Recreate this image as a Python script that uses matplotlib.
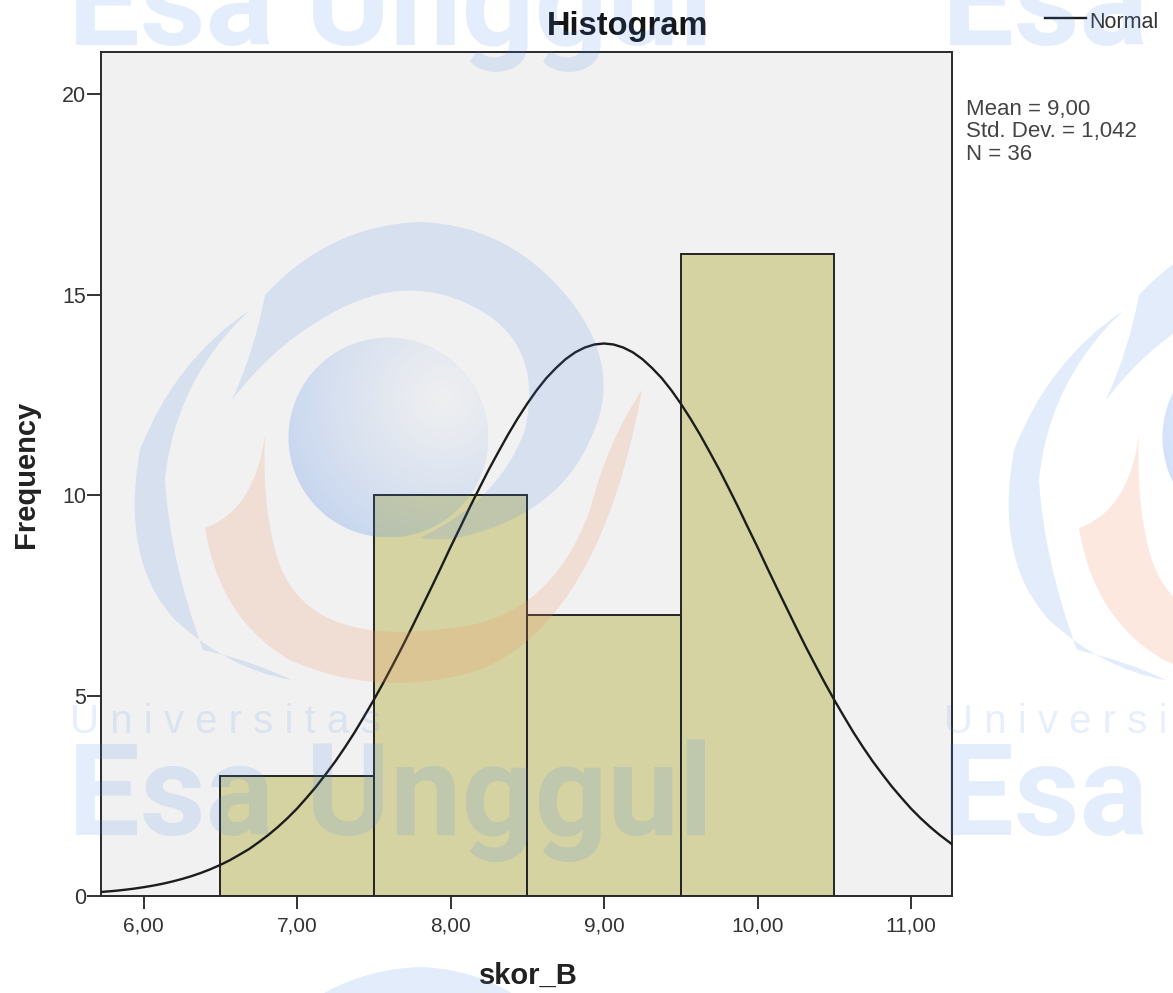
import numpy as np
import matplotlib
matplotlib.use("Agg")
import matplotlib.pyplot as plt
from matplotlib.patches import PathPatch
from matplotlib.path import Path
from matplotlib.transforms import Affine2D

W, H = 1173, 993
bin_edges = [6.5, 7.5, 8.5, 9.5, 10.5]
frequencies = [3, 10, 7, 16]
curve_x = [5.723, 5.8125, 5.875, 5.9375, 6.0, 6.0625, 6.125, 6.1875, 6.25, 6.3125, 6.375, 6.4375,
           6.5, 6.5625, 6.625, 6.6875, 6.75, 6.8125, 6.875, 6.9375, 7.0, 7.0625, 7.125, 7.1875,
           7.25, 7.3125, 7.375, 7.4375, 7.5, 7.5625, 7.625, 7.6875, 7.75, 7.8125, 7.875, 7.9375,
           8.0, 8.0625, 8.125, 8.1875, 8.25, 8.3125, 8.375, 8.4375, 8.5, 8.5625, 8.625, 8.6875,
           8.75, 8.8125, 8.875, 8.9375, 9.0, 9.0625, 9.125, 9.1875, 9.25, 9.3125, 9.375, 9.4375,
           9.5, 9.5625, 9.625, 9.6875, 9.75, 9.8125, 9.875, 9.9375, 10.0, 10.0625, 10.125, 10.1875,
           10.25, 10.3125, 10.375, 10.4375, 10.5, 10.5625, 10.625, 10.6875, 10.75, 10.8125, 10.875,
           10.9375, 11.0, 11.0625, 11.125, 11.1875, 11.267]
curve_y = [0.10, 0.128, 0.154, 0.183, 0.219, 0.259, 0.306, 0.361, 0.424, 0.495, 0.577, 0.670,
           0.775, 0.893, 1.03, 1.17, 1.34, 1.52, 1.72, 1.94, 2.18, 2.45, 2.73, 3.04,
           3.36, 3.71, 4.08, 4.48, 4.89, 5.32, 5.77, 6.23, 6.71, 7.20, 7.69, 8.19,
           8.70, 9.19, 9.69, 10.17, 10.64, 11.08, 11.51, 11.91, 12.28, 12.62, 12.92, 13.17,
           13.39, 13.56, 13.68, 13.755, 13.78, 13.755, 13.68, 13.56, 13.39, 13.17, 12.92, 12.62,
           12.28, 11.91, 11.51, 11.08, 10.64, 10.17, 9.69, 9.19, 8.70, 8.19, 7.69, 7.20,
           6.71, 6.23, 5.77, 5.32, 4.89, 4.48, 4.08, 3.71, 3.36, 3.04, 2.73,
           2.45, 2.18, 1.94, 1.72, 1.52, 1.29]
x_ticks = [6, 7, 8, 9, 10, 11]
x_labels = ["6,00", "7,00", "8,00", "9,00", "10,00", "11,00"]
y_ticks = [0, 5, 10, 15, 20]
stats_lines = ["Mean = 9,00", "Std. Dev. = 1,042", "N = 36"]

plt.rcParams["font.family"] = ["Liberation Sans", "DejaVu Sans"]
fig = plt.figure(figsize=(W / 100, H / 100), dpi=100, facecolor="white")
ax = fig.add_axes([101 / W, 1 - 896 / H, 851 / W, 844 / H], facecolor="#f1f1f1")

ax.bar(bin_edges[:-1], frequencies, width=1.0, align="edge", color="#d6d3a2",
       edgecolor="#242424", linewidth=1.4, zorder=2)
ax.plot(curve_x, curve_y, color="#1c1c1c", linewidth=1.7, zorder=3, solid_joinstyle="round")
ax.set_xlim(5.723, 11.267)
ax.set_ylim(0, 21.05)
ax.set_xticks(x_ticks, x_labels)
ax.set_yticks(y_ticks)
ax.tick_params(axis="x", length=9.4, width=1.4, labelsize=15, color="#333333",
               labelcolor="#333333", pad=5.5)
ax.tick_params(axis="y", length=10, width=1.4, labelsize=15.5, color="#333333",
               labelcolor="#333333", pad=0.5)
for s in ax.spines.values():
    s.set_linewidth(1.4)
    s.set_color("#2a2a2a")
ax.set_xlabel("skor_B", fontsize=21, fontweight="bold", color="#222222")
ax.xaxis.set_label_coords(0.502, -0.078)
ax.set_ylabel("Frequency", fontsize=21, fontweight="bold", color="#222222")
ax.yaxis.set_label_coords(-0.072, 0.5)

fig.text(628 / W, 1 - 27 / H, "Histogram", ha="center", va="center", fontsize=23.5,
         fontweight="bold", color="#151515")
fig.text(1089 / W, 1 - 22 / H, "Normal", ha="left", va="center", fontsize=15.5, color="#333333")
fig.add_artist(plt.Line2D([1045 / W, 1086 / W], [1 - 18 / H, 1 - 18 / H], color="#1c1c1c", lw=1.7))
for t, yy in zip(stats_lines, [109, 132, 155]):
    fig.text(966 / W, 1 - yy / H, t, ha="left", va="center", fontsize=16, color="#444444")

# watermark overlay, in pixel space of the picture
px = Affine2D().scale(1 / W, -1 / H).translate(0, 1) + fig.transFigure
BLUE, ORANGE, SKY = "#3f80e8", "#f09060", "#3a80f0"


def blob(points, color, alpha, dx=0, dy=0):
    verts = [(x + dx, y + dy) for x, y in points]
    codes = [Path.MOVETO] + [Path.CURVE3] * (len(verts) - 1)
    fig.add_artist(PathPatch(Path(verts, codes), transform=px, facecolor=color,
                             edgecolor="none", alpha=alpha, zorder=10))


def ball(dx):
    # shaded sphere: more tint towards the lower left, none at the highlight
    cx, cy, r = 388 + dx, 437, 100
    x0, y0 = int(cx - r), int(cy - r)
    yy, xx = np.mgrid[0:2 * r, 0:2 * r]
    xx, yy = xx + x0, yy + y0
    inside = np.clip(r + 0.5 - np.hypot(xx - cx, yy - cy), 0, 1)
    shade = np.clip(np.hypot(xx - (cx + 55), yy - (cy - 40)) / 170, 0, 1) ** 1.2
    img = np.zeros((2 * r, 2 * r, 4))
    img[..., :3] = matplotlib.colors.to_rgb(BLUE)
    img[..., 3] = inside * (0.02 + 0.22 * shade)
    fig.figimage(img, xo=x0, yo=H - (y0 + 2 * r), origin="upper", zorder=10, resize=False)


crescent = [(265, 295), (330, 225), (420, 222), (510, 225), (570, 300), (625, 370), (590, 440),
            (560, 510), (470, 535), (445, 542), (420, 538), (500, 500), (525, 430), (545, 340),
            (470, 305), (400, 270), (320, 320), (270, 350), (232, 400), (255, 350), (265, 295)]
left_arc = [(250, 310), (175, 360), (140, 450), (120, 560), (175, 620), (230, 670), (292, 680),
            (250, 660), (203, 650), (170, 560), (165, 480), (175, 380), (250, 310)]
orange_arc = [(265, 435), (255, 510), (205, 528), (220, 620), (290, 660), (380, 700), (480, 670),
              (600, 620), (642, 390), (608, 440), (590, 510), (550, 620), (450, 628),
              (300, 650), (275, 550), (262, 500), (265, 435)]
for dx in (0, 874):
    blob(crescent, BLUE, 0.15, dx)
    blob(left_arc, BLUE, 0.15, dx)
    blob(orange_arc, ORANGE, 0.2, dx)
    ball(dx)
    for yy in (45, 835):
        fig.text((68 + dx) / W, 1 - yy / H, "Esa Unggul", ha="left", va="baseline",
                 fontsize=92, fontweight="bold", family=["Roboto", "DejaVu Sans"],
                 color=SKY, alpha=0.14, zorder=12)
    fig.text((70 + dx) / W, 1 - 722 / H, "U n i v e r s i t a s", ha="left", va="center",
             fontsize=29, color=SKY, alpha=0.12, zorder=12)
blob(crescent, BLUE, 0.15, 0, 745)

fig.savefig("out.png", dpi=100)
